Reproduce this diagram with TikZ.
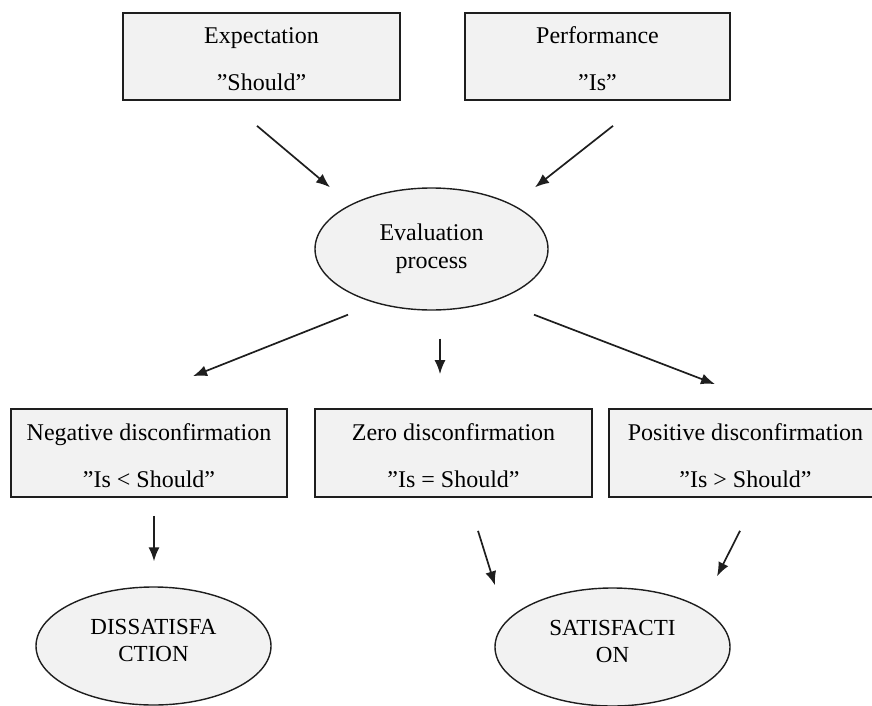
\documentclass[tikz,border=0pt]{standalone}
\usepackage{fontspec}
\setmainfont{Liberation Serif}
\usetikzlibrary{shapes.geometric,arrows.meta}
\definecolor{boxfill}{HTML}{F2F2F2}
\definecolor{edge}{HTML}{1E1E1E}
% strut that lowers the first line of a box a little
\newcommand{\toprule}{\rule{0pt}{22pt}}
\tikzset{
  box/.style={draw=edge, line width=1.7pt, fill=boxfill, rectangle, inner sep=0pt,
    minimum height=87pt, align=center, font=\fontsize{24}{47}\selectfont},
  oval/.style={draw=edge, line width=1.4pt, fill=boxfill, ellipse, inner sep=0pt,
    align=center},
  arr/.style={line width=1.7pt, draw=edge, -{Latex[length=14pt,width=11pt]}}
}
\begin{document}
\begin{tikzpicture}[x=1pt,y=-1pt]
\useasboundingbox (0,0) rectangle (872,706);

% inputs
\node[box, minimum width=277pt] (exp)  at (261.5,56.5) {\toprule Expectation\\”Should”};
\node[box, minimum width=265pt] (perf) at (597.5,56.5) {\toprule Performance\\”Is”};

% comparison
\node[oval, minimum width=233pt, minimum height=122pt,
      font=\fontsize{24}{28}\selectfont, text depth=6pt] (ev) at (431.5,249) {Evaluation\\process};

% outcomes of the comparison
\node[box, minimum width=276pt, minimum height=88pt] (neg)  at (149,453)   {\toprule Negative disconfirmation\\”Is < Should”};
\node[box, minimum width=277pt, minimum height=88pt] (zero) at (453.5,453) {\toprule Zero disconfirmation\\”Is = Should”};
\node[box, minimum width=273pt, minimum height=88pt] (pos)  at (745.5,453) {\toprule Positive disconfirmation\\”Is > Should”};

% results
\node[oval, minimum width=235pt, minimum height=118pt,
      font=\fontsize{23}{27}\selectfont, text depth=12pt] (diss) at (153.5,646) {DISSATISFA\\CTION};
\node[oval, minimum width=235pt, minimum height=118pt,
      font=\fontsize{23}{27}\selectfont, text depth=12pt] (sat) at (612.5,647) {SATISFACTI\\ON};

% connectors
\draw[arr] ([shift={(-4.5,25)}]exp.south)  -- ([shift={(-101.5,0)}]ev.north);
\draw[arr] ([shift={(15.5,25)}]perf.south) -- ([shift={(103.5,0)}]ev.north);
\draw[arr] ([shift={(-83.5,4)}]ev.south)   -- ([shift={(44,-32)}]neg.north);
\draw[arr] ([shift={(8.5,28)}]ev.south)    -- ([shift={(-13.5,-34)}]zero.north);
\draw[arr] ([shift={(102.5,4)}]ev.south)   -- ([shift={(-30.5,-24)}]pos.north);
\draw[arr] ([shift={(5,18)}]neg.south)     -- ([shift={(0.5,-25)}]diss.north);
\draw[arr] ([shift={(24.5,33)}]zero.south) -- ([shift={(-117.5,-2)}]sat.north);
\draw[arr] ([shift={(-5.5,33)}]pos.south)  -- ([shift={(104.5,-11)}]sat.north);
\end{tikzpicture}
\end{document}
